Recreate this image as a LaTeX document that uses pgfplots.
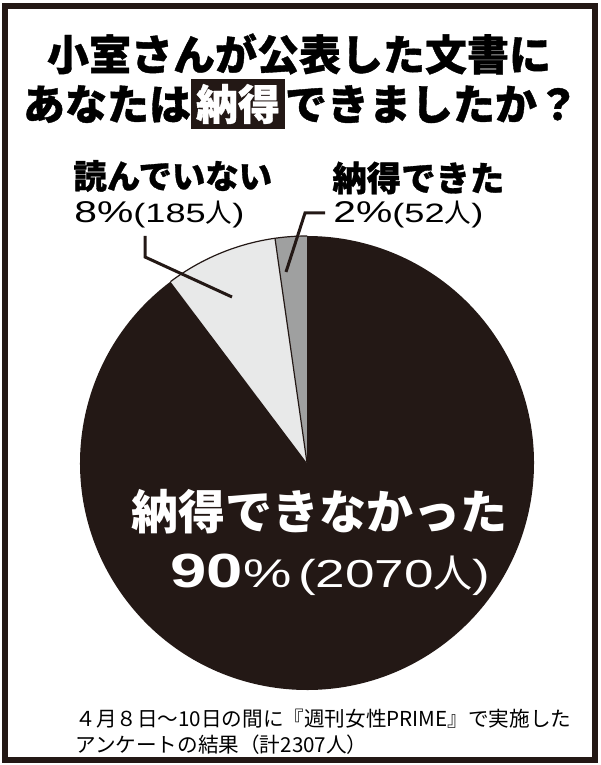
\documentclass[border=0pt]{standalone}
\usepackage{pgfplots}
\usepackage{pgfplotstable}
\pgfplotsset{compat=1.18}
\usepackage{fontspec}
\setmainfont{Liberation Sans}
\newfontfamily\jp{Noto Sans CJK JP}
\newfontfamily\jph{Noto Sans CJK JP}[BoldFeatures={FakeBold=0.9}]
\newfontfamily\hv{Liberation Sans}
\definecolor{ink}{HTML}{231815}
\definecolor{midgrey}{HTML}{9FA0A0}
\definecolor{palegrey}{HTML}{E8E9E9}
\newcommand{\fs}[1]{\fontsize{#1}{#1}\selectfont}
% extended Latin figures
\newcommand{\wide}[1]{\scalebox{1.36}[1]{#1}}

% survey answers (number of respondents)
\pgfplotstableread{
answer   count
nattoku  52
yondenai 185
fuman    2070
}\answers

\begin{document}
\begin{tikzpicture}
\pgfplotstablegetelem{0}{count}\of\answers \pgfmathtruncatemacro\nA{\pgfplotsretval}
\pgfplotstablegetelem{1}{count}\of\answers \pgfmathtruncatemacro\nB{\pgfplotsretval}
\pgfplotstablegetelem{2}{count}\of\answers \pgfmathtruncatemacro\nC{\pgfplotsretval}
\pgfmathtruncatemacro\total{\nA+\nB+\nC}
\pgfmathsetmacro\fA{\nA/\total}
\pgfmathsetmacro\fB{\nB/\total}
\pgfmathsetmacro\fC{\nC/\total}
\pgfmathsetmacro\aA{90+360*\fA}
\pgfmathsetmacro\aB{\aA+360*\fB}
\pgfmathtruncatemacro\pA{round(100*\fA)}
\pgfmathtruncatemacro\pB{round(100*\fB)}
\pgfmathtruncatemacro\pC{round(100*\fC)}
\def\R{113.5pt}
\begin{axis}[hide axis, scale only axis, width=300pt, height=382.5pt,
  xmin=0, xmax=600, ymin=0, ymax=765, clip=false]
\path (axis cs:0,0) rectangle (axis cs:600,765);
% outer frame
\draw[ink, line width=3pt] (axis cs:5,5) rectangle (axis cs:595,759);
% pie slices, counter-clockwise from twelve o'clock
\coordinate (c) at (axis cs:307,302);
\fill[midgrey] (c) -- ++(90:\R) arc[start angle=90, end angle=\aA, radius=\R] -- cycle;
\fill[palegrey] (c) -- ++(\aA:\R) arc[start angle=\aA, end angle=\aB, radius=\R] -- cycle;
\fill[ink] (c) -- ++(\aB:\R) arc[start angle=\aB, end angle=450, radius=\R] -- cycle;
\draw[ink, line width=0.6pt] (c) ++(90:\R) arc[start angle=90, end angle=\aB, radius=\R];
\draw[ink, line width=0.6pt] (c) -- ++(\aA:\R);
% title
\node[inner sep=0] at (axis cs:299,711) {\jph\bfseries\fs{21pt}小室さんが公表した文書に};
\node[inner sep=0] at (axis cs:301,661) {\jph\bfseries\fs{21pt}あなたは{\setlength{\fboxsep}{2.5pt}\colorbox{ink}{\textcolor{white}{納得}}}できましたか？};
% labels
\node[anchor=west, inner sep=0] at (axis cs:73,589) {\jph\bfseries\fs{16.7pt}読んでいない};
\node[anchor=west, inner sep=0] at (axis cs:74,550) {\wide{\hv\fs{15pt}\pB\%}{\hv\fs{13.3pt}\wide{(\nB}{\jp 人}\wide{)}}};
\node[anchor=west, inner sep=0] at (axis cs:332,587) {\jph\bfseries\fs{17.2pt}納得できた};
\node[anchor=west, inner sep=0] at (axis cs:333,550) {\wide{\hv\fs{15pt}\pA\%}{\hv\fs{13.3pt}\wide{(\nA}{\jp 人}\wide{)}}};
\draw[ink, line width=1.5pt] (axis cs:145,529) -- (axis cs:145,508) -- (axis cs:232,468);
\draw[ink, line width=1.5pt] (axis cs:325,552) -- (axis cs:305,552) -- (axis cs:286,493);
\node[inner sep=0, text=white] at (axis cs:319,253) {\jp\bfseries\fs{23.5pt}納得できなかった};
\node[anchor=west, inner sep=0, text=white] at (axis cs:170,190) {\wide{\hv\bfseries\fs{24pt}\pC}{\hv\fs{20pt}\wide{\%}\,}{\hv\fs{19.5pt}\wide{(\nC}{\jp 人}\wide{)}}};
% footnote
\node[anchor=west, inner sep=0] at (axis cs:75,46) {\jp\fs{10.3pt}４月８日〜10日の間に『週刊女性PRIME』で実施した};
\node[anchor=west, inner sep=0] at (axis cs:75,20) {\jp\fs{10.3pt}アンケートの結果（計\total 人）};
\end{axis}
\end{tikzpicture}
\end{document}
